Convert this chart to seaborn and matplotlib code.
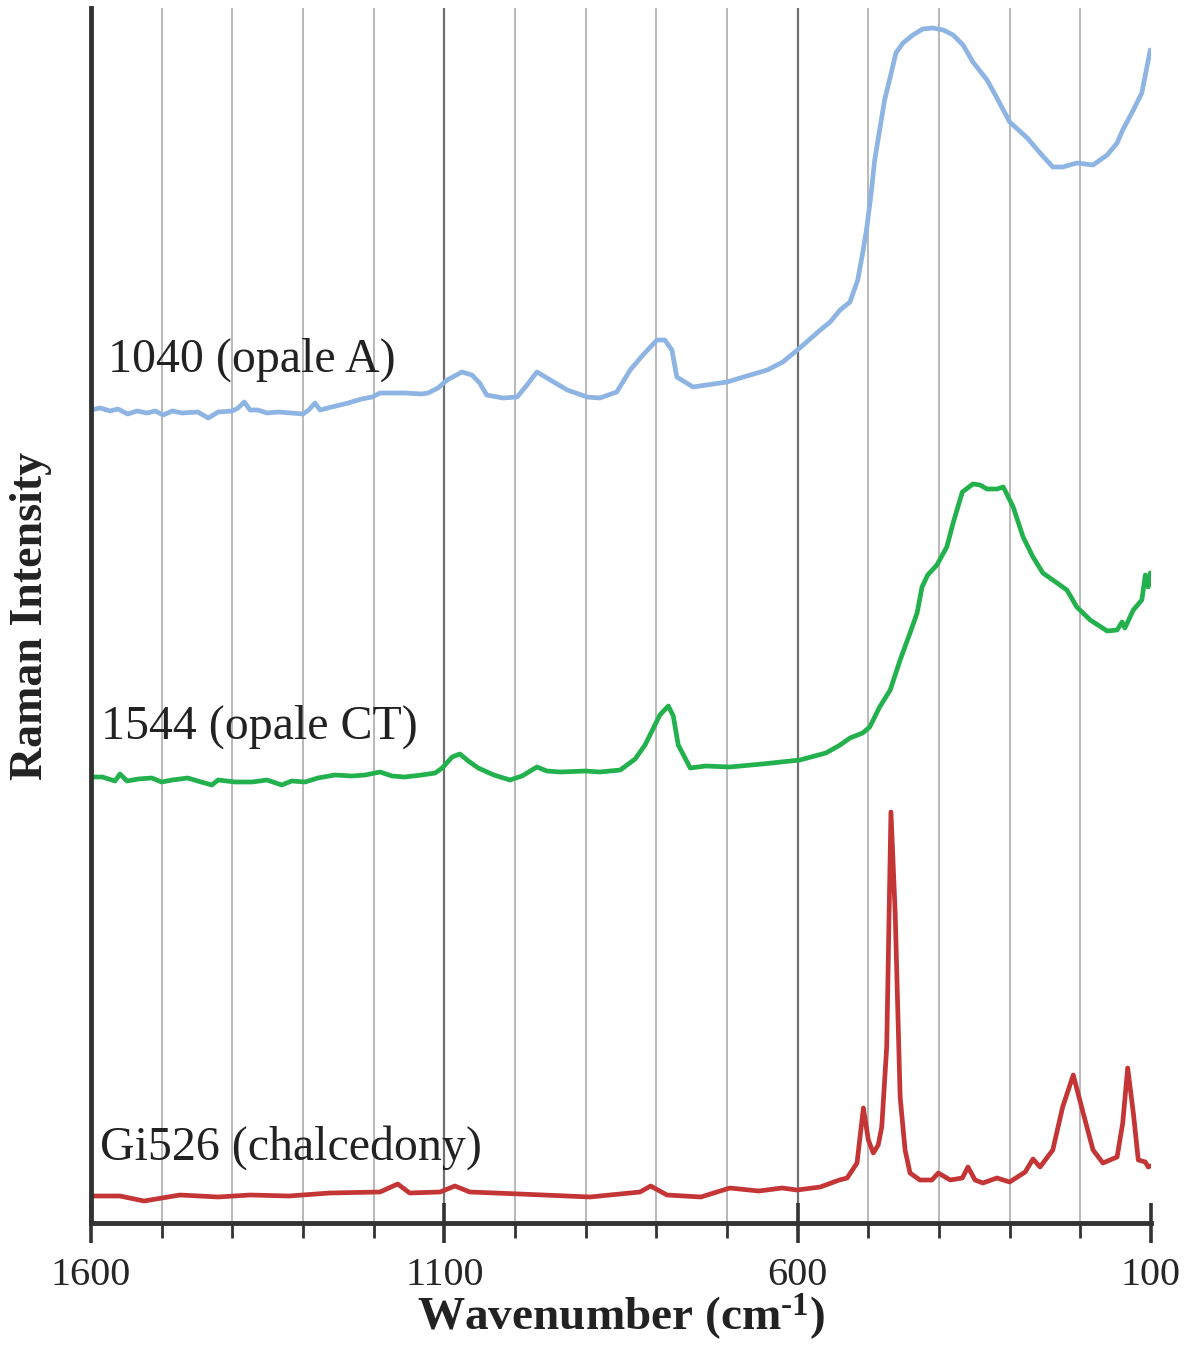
import numpy as np
import pandas as pd
import seaborn as sns
import matplotlib
matplotlib.use('Agg')
import matplotlib.pyplot as plt
from matplotlib.ticker import MultipleLocator, FixedLocator

sns.set_theme(style="white")
plt.rcParams['font.family'] = ['Liberation Serif', 'DejaVu Serif']
plt.rcParams['mathtext.fontset'] = 'custom'
plt.rcParams['mathtext.rm'] = 'Liberation Serif'
plt.rcParams['mathtext.bf'] = 'Liberation Serif:bold'
plt.rcParams['mathtext.default'] = 'regular'

# spectra (wavenumber cm-1, intensity a.u.)
wn_opale_a = [1600, 1587, 1573, 1562, 1548, 1535, 1521, 1509, 1498, 1485, 1471, 1449,
              1434, 1420, 1400, 1392, 1383, 1375, 1364, 1351, 1335, 1316, 1300, 1292,
              1283, 1276, 1259, 1236, 1217, 1202, 1191, 1174, 1156, 1132, 1123, 1109,
              1096, 1075, 1061, 1050, 1040, 1017, 997, 983, 969, 950, 926, 898, 880,
              856, 837, 819, 799, 788, 778, 771, 748, 700, 667, 643, 621, 597, 568,
              554, 540, 526, 515, 508, 502, 496, 491, 484, 477, 469, 461, 451, 437,
              423, 409, 394, 380, 366, 352, 332, 318, 300, 275, 257, 239, 225, 205,
              182, 162, 148, 140, 125, 113, 108, 101]
int_opale_a = [811, 813, 810, 812, 807, 810, 808, 810, 806, 810, 808, 809,
               803, 809, 810, 813, 819, 811, 811, 808, 809, 808, 807, 811,
               818, 811, 814, 818, 822, 824, 828, 828, 828, 827, 828, 833,
               841, 849, 846, 838, 826, 823, 824, 836, 849, 841, 831, 824, 823,
               829, 851, 866, 881, 881, 871, 844, 834, 839, 846, 851, 859, 873, 891,
               899, 911, 919, 941, 968, 994, 1028, 1061, 1091, 1121, 1144, 1168, 1178, 1186,
               1192, 1193, 1191, 1186, 1176, 1159, 1141, 1123, 1099, 1083, 1068, 1054, 1054, 1058,
               1056, 1066, 1078, 1091, 1111, 1128, 1146, 1171]

wn_opale_ct = [1600, 1584, 1566, 1559, 1549, 1533, 1514, 1500, 1485, 1463, 1449, 1429,
               1420, 1396, 1372, 1351, 1330, 1316, 1297, 1279, 1255, 1231, 1212, 1191,
               1174, 1156, 1132, 1113, 1103, 1089, 1078, 1066, 1052, 1030, 1007, 990,
               969, 955, 936, 900, 880, 851, 830, 816, 795, 783, 776, 769, 752, 730,
               696, 650, 597, 560, 540, 526, 508, 498, 484, 469, 455, 441, 431, 424,
               416, 403, 389, 380, 367, 352, 342, 332, 318, 309, 295, 281, 267, 253,
               233, 219, 205, 186, 162, 148, 141, 137, 125, 113, 108, 104, 101]
int_opale_ct = [444, 444, 440, 447, 440, 442, 443, 439, 441, 443, 440, 436,
                441, 439, 439, 441, 436, 440, 439, 443, 446, 445, 446, 449,
                445, 444, 446, 448, 453, 464, 467, 460, 453, 446, 441, 445,
                454, 450, 449, 450, 449, 451, 462, 476, 506, 515, 505, 476, 453, 455,
                454, 457, 461, 468, 476, 483, 488, 494, 514, 531, 561, 588, 608, 634,
                646, 656, 674, 698, 729, 737, 736, 732, 732, 734, 714, 684, 664, 648,
                638, 631, 614, 601, 590, 591, 599, 593, 611, 621, 646, 634, 648]

wn_chalcedony = [1600, 1559, 1525, 1474, 1420, 1375, 1320, 1262, 1191, 1166, 1149, 1106,
                 1085, 1064, 993, 894, 823, 808, 785, 737, 696, 655, 622, 601, 568,
                 541, 530, 516, 507, 500, 493, 486, 481, 474, 468, 462, 455, 448, 441,
                 427, 410, 401, 384, 367, 359, 349, 338, 318, 300, 278, 267, 257, 239,
                 225, 210, 196, 182, 168, 148, 140, 133, 125, 118, 108, 104, 101]
int_chalcedony = [25, 25, 20, 26, 24, 26, 25, 28, 29, 37, 28, 29,
                  35, 29, 27, 24, 29, 35, 26, 24, 33, 30, 33, 31, 34,
                  41, 43, 58, 113, 81, 68, 76, 94, 174, 409, 308, 124, 71, 48,
                  41, 41, 48, 41, 43, 54, 41, 38, 43, 39, 49, 62, 54, 71,
                  114, 146, 108, 71, 58, 64, 98, 153, 108, 61, 59, 54, 55]

samples = ["1040 (opale A)", "1544 (opale CT)", "Gi526 (chalcedony)"]
colors = ["#8db4e2", "#22b14c", "#c43535"]

df = pd.concat([
    pd.DataFrame({"wn": wn_opale_a, "I": int_opale_a, "sample": samples[0]}),
    pd.DataFrame({"wn": wn_opale_ct, "I": int_opale_ct, "sample": samples[1]}),
    pd.DataFrame({"wn": wn_chalcedony, "I": int_chalcedony, "sample": samples[2]}),
])

fig = plt.figure(figsize=(11.91, 13.46), dpi=100)
ax = fig.add_axes([91/1191, 123/1346, 1060/1191, 1215/1346])

sns.lineplot(data=df, x="wn", y="I", hue="sample", palette=colors,
             estimator=None, linewidth=3.4, legend=False, ax=ax)

ax.set_xlim(1600, 100)
ax.set_ylim(-2, 1213)

# labels next to each spectrum
label_pos = [(1576, 861), (1586, 494), (1587, 73)]
for s, (x, y) in zip(samples, label_pos):
    ax.text(x, y, s, fontsize=34.5, color="#222222", ha="left", va="center")

ax.xaxis.set_major_locator(FixedLocator([1600, 1100, 600, 100]))
ax.xaxis.set_minor_locator(MultipleLocator(100))
ax.set_yticks([])

ax.tick_params(axis="x", which="major", direction="inout", length=29, width=2.6,
               color="#333333", labelsize=29, pad=10, bottom=True)
ax.tick_params(axis="x", which="minor", direction="out", length=11, width=2.0,
               color="#333333", bottom=True)

ax.set_axisbelow(True)
ax.grid(which="minor", axis="x", color="#a6a6a6", linewidth=1.1)
ax.grid(which="major", axis="x", color="#707070", linewidth=1.6)
for gl, v in zip(ax.xaxis.get_gridlines(), [1600, 1100, 600, 100]):
    if v in (1600, 100):
        gl.set_visible(False)

for side in ["top", "right"]:
    ax.spines[side].set_visible(False)
for side in ["left", "bottom"]:
    ax.spines[side].set_color("#333333")
    ax.spines[side].set_linewidth(3.5)

ax.set_xlabel(r"Wavenumber (cm$^{\text{-}1}$)", fontsize=34, fontweight="bold",
              color="#222222", labelpad=-2)
ax.set_ylabel("Raman Intensity", fontsize=33, fontweight="bold",
              color="#222222", labelpad=28)

fig.savefig("out.png", dpi=100)
plt.close()
